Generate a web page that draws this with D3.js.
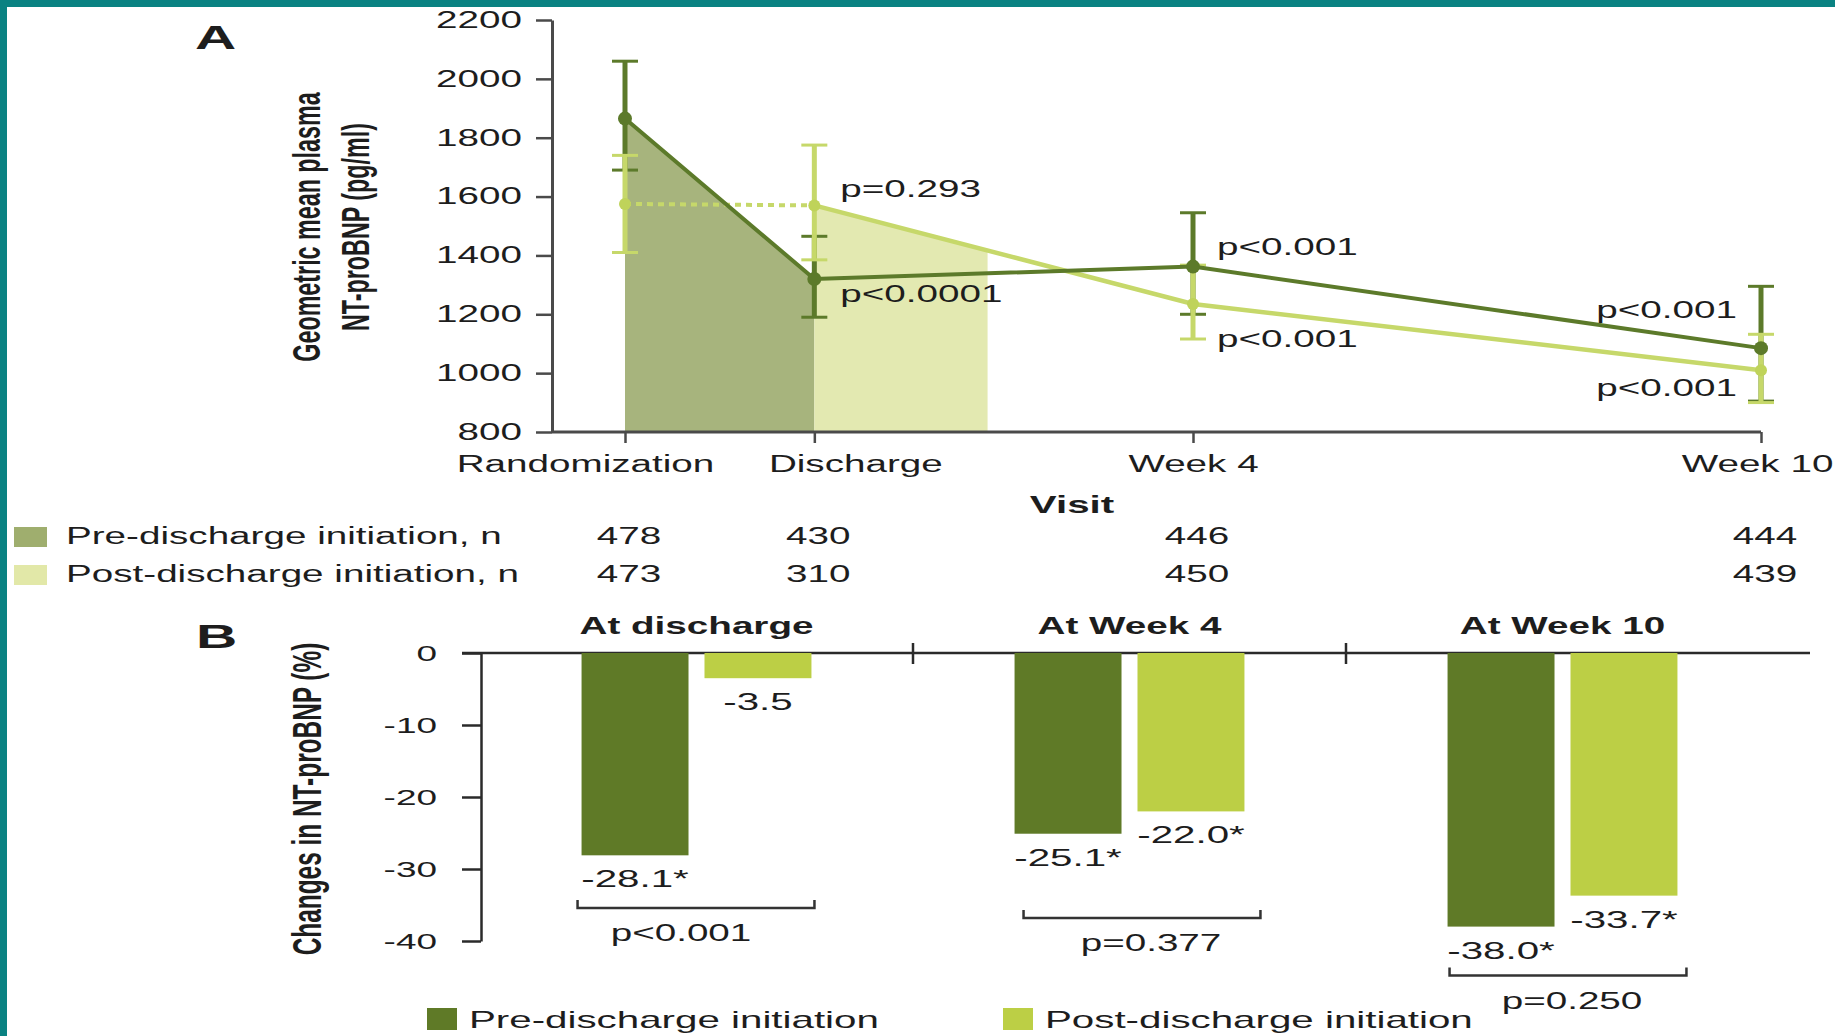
<!DOCTYPE html>
<html>
<head>
<meta charset="utf-8">
<script src="https://cdn.jsdelivr.net/npm/d3@7"></script>
<style>
  html, body { margin: 0; padding: 0; background: #fff; overflow: hidden; }
  svg { display: block; font-family: "Liberation Sans", Arial, Helvetica, sans-serif; }
</style>
</head>
<body>
<svg id="chart" width="1835" height="1036"></svg>
<script>
// ---------- Panel A data: geometric mean NT-proBNP (pg/ml) by visit ----------
const visits = ["Randomization", "Discharge", "Week 4", "Week 10"];
const visitWeek = [-2, 0, 4, 10];            // weeks relative to discharge
const preMean  = [1865, 1320, 1362, 1085];
const preLow   = [1690, 1190, 1200, 905];
const preHigh  = [2060, 1465, 1545, 1295];
const postMean = [1575, 1570, 1235, 1010];
const postLow  = [1410, 1385, 1116, 900];
const postHigh = [1740, 1775, 1367, 1132];
const preN  = [478, 430, 446, 444];
const postN = [473, 310, 450, 439];
const preP  = [null, "p<0.0001", "p<0.001", "p<0.001"];
const postP = [null, "p=0.293", "p<0.001", "p<0.001"];
const postShadeEndWeek = 1.83;
const yTicksA = [800, 1000, 1200, 1400, 1600, 1800, 2000, 2200];

// ---------- Panel B data: % change in NT-proBNP ----------
const periods = ["At discharge", "At Week 4", "At Week 10"];
const preChange  = [-28.1, -25.1, -38.0];
const postChange = [-3.5, -22.0, -33.7];
const preStar  = [true, true, true];
const postStar = [false, true, true];
const betweenP = ["p<0.001", "p=0.377", "p=0.250"];
const yTicksB = [0, -10, -20, -30, -40];

// ---------- styling ----------
const SX = 1.68;                 // horizontal stretch of all lettering
const TXT = "#1d1d1d";
const DARK = "#5c7a2a", LIGHT = "#c6d86a";
const DARK_FILL = "#a7b47d", LIGHT_FILL = "#e3e9b1";
const BAR_DARK = "#5f7a27", BAR_LIGHT = "#bccf45";

const svg = d3.select("#chart");

function label(g, x, y, str, o = {}) {
  return g.append("text")
    .attr("transform", `translate(${x},${y}) scale(${SX},1)` + (o.rotate ? ` rotate(${o.rotate})` : ""))
    .attr("text-anchor", o.anchor || "start")
    .attr("font-size", o.size || 23)
    .attr("font-weight", o.bold ? "bold" : "normal")
    .attr("fill", o.fill || TXT)
    .text(str);
}

// frame
svg.append("rect").attr("width", 1835).attr("height", 1036).attr("fill", "#0a8282");
svg.append("rect").attr("x", 7).attr("y", 7).attr("width", 1840).attr("height", 1040).attr("fill", "#fff");

// =================== Panel A ===================
const gA = svg.append("g");
const AXIS_LEFT_A = 552;
const xA = d3.scaleLinear().domain([-2, 10]).range([625, 1761]);
const yA = d3.scaleLinear().domain([800, 2200]).range([432, 20]);

label(gA, 195, 49, "A", { size: 34, bold: true, anchor: "start" });

// shaded areas under the lines
const area = d3.area().x(d => xA(d.w)).y0(yA(800)).y1(d => yA(d.v));
gA.append("path")
  .datum([0, 1].map(i => ({ w: visitWeek[i], v: preMean[i] })))
  .attr("d", area).attr("fill", DARK_FILL);
const tShade = (postShadeEndWeek - visitWeek[1]) / (visitWeek[2] - visitWeek[1]);
gA.append("path")
  .datum([{ w: visitWeek[1], v: postMean[1] },
          { w: postShadeEndWeek, v: d3.interpolateNumber(postMean[1], postMean[2])(tShade) }])
  .attr("d", area).attr("fill", LIGHT_FILL);

// y axis
const gyA = gA.append("g").attr("transform", `translate(${AXIS_LEFT_A},0)`)
  .call(d3.axisLeft(yA).tickValues(yTicksA).tickSize(16).tickPadding(14).tickSizeOuter(0)
    .tickFormat(d => String(d)));
gyA.select(".domain").attr("stroke", "#4a4a4a").attr("stroke-width", 3);
gyA.selectAll(".tick line").attr("stroke", "#4a4a4a").attr("stroke-width", 2.5);
gyA.selectAll(".tick text")
  .attr("x", -30 / SX).attr("transform", `scale(${SX},1)`)
  .attr("font-size", 23).attr("font-family", null).attr("fill", TXT);

// x axis
gA.append("line").attr("x1", AXIS_LEFT_A).attr("x2", xA(10))
  .attr("y1", yA(800)).attr("y2", yA(800)).attr("stroke", "#4a4a4a").attr("stroke-width", 3);
const tickShift = [-40, 41, 0, -4];
const gxA = gA.append("g").attr("transform", `translate(0,${yA(800)})`)
  .call(d3.axisBottom(xA).tickValues(visitWeek).tickSize(11).tickPadding(13)
    .tickFormat((d, i) => visits[i]));
gxA.select(".domain").remove();
gxA.selectAll(".tick line").attr("stroke", "#4a4a4a").attr("stroke-width", 2.5);
gxA.selectAll(".tick text")
  .attr("x", (d, i) => tickShift[i] / SX).attr("transform", `scale(${SX},1)`)
  .attr("font-size", 23).attr("font-family", null).attr("fill", TXT);

label(gA, 1072, 513, "Visit", { size: 24, bold: true, anchor: "middle" });

// y axis title
label(gA, 320, 227, "Geometric mean plasma", { size: 23.3, bold: true, anchor: "middle", rotate: -90 });
label(gA, 369, 227, "NT-proBNP (pg/ml)", { size: 23.3, bold: true, anchor: "middle", rotate: -90 });

// error bars
const idx = d3.range(visits.length);
function errorBars(lo, hi, color) {
  const g = gA.append("g").attr("stroke", color);
  g.selectAll("line.v").data(idx).join("line")
    .attr("x1", i => xA(visitWeek[i])).attr("x2", i => xA(visitWeek[i]))
    .attr("y1", i => yA(lo[i])).attr("y2", i => yA(hi[i])).attr("stroke-width", 5);
  [lo, hi].forEach(arr => {
    g.selectAll(null).data(idx).join("line")
      .attr("x1", i => xA(visitWeek[i]) - 13).attr("x2", i => xA(visitWeek[i]) + 13)
      .attr("y1", i => yA(arr[i])).attr("y2", i => yA(arr[i])).attr("stroke-width", 3);
  });
}
errorBars(preLow, preHigh, DARK);
errorBars(postLow, postHigh, LIGHT);

// lines
const lineA = d3.line().x(i => xA(visitWeek[i]));
gA.append("path").datum([0, 1])
  .attr("d", lineA.y(i => yA(postMean[i])))
  .attr("fill", "none").attr("stroke", LIGHT).attr("stroke-width", 4).attr("stroke-dasharray", "6,5");
gA.append("path").datum([1, 2, 3])
  .attr("d", lineA.y(i => yA(postMean[i])))
  .attr("fill", "none").attr("stroke", LIGHT).attr("stroke-width", 4.5);
gA.append("path").datum(idx)
  .attr("d", lineA.y(i => yA(preMean[i])))
  .attr("fill", "none").attr("stroke", DARK).attr("stroke-width", 4);

// markers
gA.selectAll("circle.post").data(idx).join("circle")
  .attr("cx", i => xA(visitWeek[i])).attr("cy", i => yA(postMean[i])).attr("r", 6).attr("fill", "#bfd35a");
gA.selectAll("circle.pre").data(idx).join("circle")
  .attr("cx", i => xA(visitWeek[i])).attr("cy", i => yA(preMean[i])).attr("r", 7).attr("fill", DARK);

// p-value annotations next to the points
const preLabelOff  = [null, [26, 23, "start"], [24, -12, "start"], [-24, -30, "end"]];
const postLabelOff = [null, [26, -8, "start"], [24, 43, "start"], [-24, 26, "end"]];
idx.forEach(i => {
  if (preP[i]) {
    const o = preLabelOff[i];
    label(gA, xA(visitWeek[i]) + o[0], yA(preMean[i]) + o[1], preP[i], { anchor: o[2] });
  }
  if (postP[i]) {
    const o = postLabelOff[i];
    label(gA, xA(visitWeek[i]) + o[0], yA(postMean[i]) + o[1], postP[i], { anchor: o[2] });
  }
});

// n at each visit
const nRows = [
  { name: "Pre-discharge initiation, n", fill: "#9fae6e", n: preN, base: 544 },
  { name: "Post-discharge initiation, n", fill: "#e2e8a8", n: postN, base: 582 }
];
nRows.forEach(r => {
  gA.append("rect").attr("x", 14).attr("y", r.base - 17).attr("width", 33).attr("height", 20).attr("fill", r.fill);
  label(gA, 66, r.base, r.name);
  r.n.forEach((v, i) => label(gA, xA(visitWeek[i]) + 4, r.base, v, { anchor: "middle" }));
});

// =================== Panel B ===================
const gB = svg.append("g");
const AXIS_LEFT_B = 481;
const yB = d3.scaleLinear().domain([-40, 0]).range([941, 653]);
const x0 = d3.scaleBand().domain(periods).range([480, 1779]);
const x1 = d3.scaleBand().domain(["pre", "post"]).range([0, x0.bandwidth()])
  .paddingInner(0.13).paddingOuter(0.826);

label(gB, 196, 648, "B", { size: 34, bold: true });

// zero line with period separators
gB.append("line").attr("x1", AXIS_LEFT_B - 19).attr("x2", 1810)
  .attr("y1", yB(0)).attr("y2", yB(0)).attr("stroke", "#2a2a2a").attr("stroke-width", 2.5);
gB.selectAll("line.sep").data(periods.slice(1)).join("line")
  .attr("x1", p => x0(p)).attr("x2", p => x0(p))
  .attr("y1", yB(0) - 10).attr("y2", yB(0) + 11).attr("stroke", "#2a2a2a").attr("stroke-width", 2.5);

// y axis
const gyB = gB.append("g").attr("transform", `translate(${AXIS_LEFT_B},0)`)
  .call(d3.axisLeft(yB).tickValues(yTicksB).tickSize(19).tickPadding(25).tickSizeOuter(0)
    .tickFormat(d => String(d)));
gyB.select(".domain").attr("stroke", "#2a2a2a").attr("stroke-width", 2.5);
gyB.selectAll(".tick line").attr("stroke", "#2a2a2a").attr("stroke-width", 2.5);
gyB.selectAll(".tick text")
  .attr("x", -44 / SX).attr("transform", `scale(${SX},1)`)
  .attr("font-size", 22).attr("font-family", null).attr("fill", TXT);

label(gB, 321, 799, "Changes in NT-proBNP (%)", { size: 24.4, bold: true, anchor: "middle", rotate: -90 });

// bars
const bars = [];
periods.forEach((p, i) => {
  bars.push({ p, key: "pre", v: preChange[i], star: preStar[i], fill: BAR_DARK });
  bars.push({ p, key: "post", v: postChange[i], star: postStar[i], fill: BAR_LIGHT });
});
gB.selectAll("rect.bar").data(bars).join("rect")
  .attr("x", d => x0(d.p) + x1(d.key)).attr("width", x1.bandwidth())
  .attr("y", yB(0)).attr("height", d => yB(d.v) - yB(0)).attr("fill", d => d.fill);
bars.forEach(d => {
  label(gB, x0(d.p) + x1(d.key) + x1.bandwidth() / 2, yB(d.v) + 32,
    d.v.toFixed(1) + (d.star ? "*" : ""), { size: 24, anchor: "middle" });
});

// period titles
periods.forEach(p => label(gB, x0(p) + x0.bandwidth() / 2, 634, p, { size: 23, bold: true, anchor: "middle" }));

// between-group comparison brackets
const bracketLevel = [-35.4, -36.8, -44.8];
const bracketShift = [0, 13, 6];
const pTextShift = [-15, 9, 4];
periods.forEach((p, i) => {
  const xl = x0(p) + x1("pre") - 4 + bracketShift[i];
  const xr = x0(p) + x1("post") + x1.bandwidth() + 3 + bracketShift[i];
  const y = yB(bracketLevel[i]);
  gB.append("path")
    .attr("d", `M${xl},${y - 8}V${y}H${xr}V${y - 8}`)
    .attr("fill", "none").attr("stroke", "#333").attr("stroke-width", 2.5);
  label(gB, (xl + xr) / 2 + pTextShift[i], y + 33, betweenP[i], { size: 23, anchor: "middle" });
});

// legend
const legendB = [
  { name: "Pre-discharge initiation", fill: BAR_DARK, x: 427 },
  { name: "Post-discharge initiation", fill: BAR_LIGHT, x: 1003 }
];
legendB.forEach(l => {
  gB.append("rect").attr("x", l.x).attr("y", 1008).attr("width", 30).attr("height", 22).attr("fill", l.fill);
  label(gB, l.x + 42, 1028, l.name, { size: 24 });
});
</script>
</body>
</html>
